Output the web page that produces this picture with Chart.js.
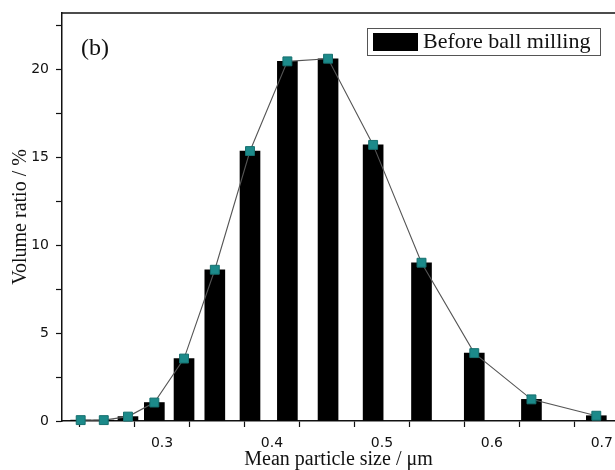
<!DOCTYPE html>
<html>
<head>
<meta charset="utf-8">
<script src="https://cdn.jsdelivr.net/npm/chart.js@4/dist/chart.umd.min.js"></script>
<style>
  html, body { margin: 0; padding: 0; background: #fff; }
  #wrap { width: 615px; height: 470px; }
</style>
</head>
<body>
<div id="wrap"><canvas id="myChart" width="615" height="470"></canvas></div>
<script>
// mean particle size (µm) and volume ratio (%)
const sizes = [0.226, 0.247, 0.269, 0.293, 0.320, 0.348, 0.380, 0.414, 0.451, 0.492, 0.536, 0.584, 0.636, 0.695];
const volumes = [0.05, 0.05, 0.25, 1.05, 3.55, 8.6, 15.35, 20.45, 20.6, 15.7, 9.0, 3.86, 1.23, 0.3];
// major ticks carry a label, minor ticks in between do not
const xTicks = [0.25, 0.3, 0.35, 0.4, 0.45, 0.5, 0.55, 0.6, 0.65, 0.7];
const xTickLabels = ["0.3", "0.4", "0.5", "0.6", "0.7"];
const yTicks = [0, 2.5, 5, 7.5, 10, 12.5, 15, 17.5, 20, 22.5];
const yTickLabels = ["0", "5", "10", "15", "20"];
const seriesLabel = "Before ball milling";
const panelLabel = "(b)";

const points = sizes.map((s, i) => ({ x: s, y: volumes[i] }));

const extras = {
    id: "extras",
    afterDraw(chart) {
        const ctx = chart.ctx;
        const a = chart.chartArea;
        ctx.save();
        // top frame line
        ctx.strokeStyle = "#111";
        ctx.lineWidth = 1.5;
        ctx.beginPath();
        ctx.moveTo(a.left, a.top);
        ctx.lineTo(a.right, a.top);
        ctx.stroke();

        // panel label
        ctx.fillStyle = "#111";
        ctx.font = "24px 'Liberation Serif'";
        ctx.textAlign = "left";
        ctx.textBaseline = "middle";
        ctx.fillText(panelLabel, 81, 49);

        // legend box
        ctx.strokeStyle = "#555";
        ctx.lineWidth = 1;
        ctx.strokeRect(367.5, 28.5, 233, 27);
        ctx.fillStyle = "#000";
        ctx.fillRect(373, 33, 45, 18);
        ctx.fillStyle = "#111";
        ctx.font = "22px 'Liberation Serif'";
        ctx.fillText(seriesLabel, 423, 42);
        ctx.restore();
    }
};

const ctx = document.getElementById("myChart").getContext("2d");
const myChart = new Chart(ctx, {
    data: {
        datasets: [
            {
                type: "line",
                label: seriesLabel,
                data: points,
                borderColor: "#555",
                borderWidth: 1.1,
                pointStyle: "rect",
                pointRadius: 6.3,
                pointBackgroundColor: "#1c8a8a",
                pointBorderColor: "#16706f",
                pointBorderWidth: 1,
                clip: false,
                order: 0,
            },
            {
                type: "bar",
                label: seriesLabel,
                data: points,
                backgroundColor: "#000",
                barThickness: 20,
                order: 1,
            },
        ],
    },
    options: {
        responsive: false,
        animation: false,
        layout: { autoPadding: false, padding: { top: 13, right: 0, left: 0, bottom: 0 } },
        plugins: {
            legend: { display: false },
            tooltip: { enabled: false },
        },
        scales: {
            x: {
                type: "linear",
                min: 0.209,
                max: 0.712,
                offset: false,
                grid: { drawOnChartArea: false, color: "#111", tickLength: 6, tickWidth: 1.2 },
                border: { color: "#111", width: 1.5 },
                afterBuildTicks: (scale) => {
                    scale.ticks = xTicks.map((v) => ({ value: v }));
                },
                afterFit: (scale) => {
                    scale.height = 49;
                    scale.paddingRight = 0;
                    scale.paddingLeft = 0;
                },
                ticks: {
                    autoSkip: false,
                    maxRotation: 0,
                    padding: 8,
                    color: "#111",
                    font: { family: "'DejaVu Sans'", size: 14 },
                    callback: (v) => {
                        const s = v.toFixed(1);
                        return Math.abs(v - Number(s)) < 1e-6 && xTickLabels.includes(s) ? s : "";
                    },
                },
                title: {
                    display: true,
                    text: "Mean particle size / μm",
                    color: "#111",
                    font: { family: "'Liberation Serif'", size: 20 },
                    padding: { top: 0, bottom: -2 },
                },
            },
            y: {
                min: 0,
                max: 23.2,
                grid: { drawOnChartArea: false, color: "#111", tickLength: 6, tickWidth: 1.2 },
                border: { color: "#111", width: 1.5 },
                afterBuildTicks: (scale) => {
                    scale.ticks = yTicks.map((v) => ({ value: v }));
                },
                afterFit: (scale) => {
                    scale.width = 62;
                    scale.paddingTop = 0;
                    scale.paddingBottom = 0;
                },
                ticks: {
                    autoSkip: false,
                    padding: 7,
                    color: "#111",
                    font: { family: "'DejaVu Sans'", size: 14 },
                    callback: (v) => {
                        const s = String(v);
                        return yTickLabels.includes(s) ? s : "";
                    },
                },
                title: {
                    display: true,
                    text: "Volume ratio / %",
                    color: "#111",
                    font: { family: "'Liberation Serif'", size: 20 },
                    padding: { top: 9, bottom: 0 },
                },
            },
        },
    },
    plugins: [extras],
});
</script>
</body>
</html>
